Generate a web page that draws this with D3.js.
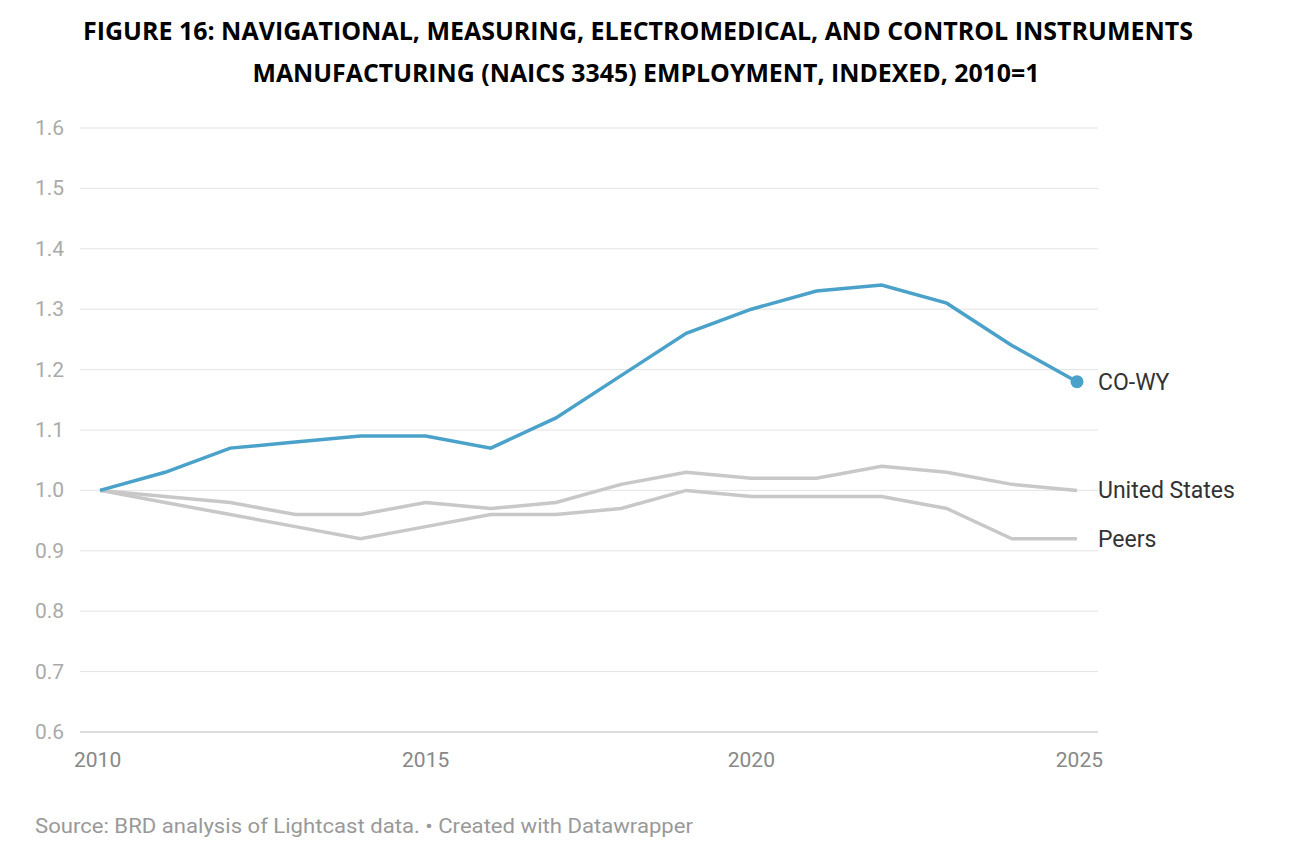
<!DOCTYPE html><html><head><meta charset="utf-8">
<script src="https://cdn.jsdelivr.net/npm/d3@7"></script>
<style>body{margin:0;background:#fff}</style></head><body>
<svg id="c" width="1300" height="858"></svg>
<script>
const years=d3.range(2010,2026);
const coWy=[1.0,1.03,1.07,1.08,1.09,1.09,1.07,1.12,1.19,1.26,1.30,1.33,1.34,1.31,1.24,1.18];
const us=[1.0,0.99,0.98,0.96,0.96,0.98,0.97,0.98,1.01,1.03,1.02,1.02,1.04,1.03,1.01,1.00];
const peers=[1.0,0.98,0.96,0.94,0.92,0.94,0.96,0.96,0.97,1.00,0.99,0.99,0.99,0.97,0.92,0.92];
const yTicks=[0.6,0.7,0.8,0.9,1.0,1.1,1.2,1.3,1.4,1.5,1.6];
const xTicks=[2010,2015,2020,2025];
const svg=d3.select("#c");
const x=d3.scaleLinear().domain([2010,2025]).range([100,1077]);
const y=d3.scaleLinear().domain([0.6,1.6]).range([732,128]);
svg.append("text").attr("x",638).attr("y",40).attr("text-anchor","middle").attr("font-family","Open Sans").attr("font-weight","bold").attr("font-size",24.5).attr("textLength",1110).attr("lengthAdjust","spacingAndGlyphs").text("FIGURE 16: NAVIGATIONAL, MEASURING, ELECTROMEDICAL, AND CONTROL INSTRUMENTS");
svg.append("text").attr("x",646).attr("y",82).attr("text-anchor","middle").attr("font-family","Open Sans").attr("font-weight","bold").attr("font-size",24.5).attr("textLength",787).attr("lengthAdjust","spacingAndGlyphs").text("MANUFACTURING (NAICS 3345) EMPLOYMENT, INDEXED, 2010=1");
const g=svg.append("g").attr("font-family","Roboto");
yTicks.forEach(t=>{
 g.append("line").attr("x1",80).attr("x2",1098).attr("y1",y(t)).attr("y2",y(t)).attr("stroke",t===0.6?"#bbb":"#e3e3e3").attr("stroke-width",1);
 g.append("text").attr("x",35).attr("y",y(t)+7).attr("font-size",21).attr("fill","#aaa").text(t.toFixed(1));
});
xTicks.forEach((t,i)=>g.append("text").attr("x",x(t)).attr("y",767).attr("font-size",21).attr("fill","#888").attr("text-anchor",i===0?"start":i===3?"end":"middle").attr("dx",i===0?-26:i===3?26:0).text(t));
const line=d3.line().x((d,i)=>x(years[i])).y(d=>y(d));
[[peers,"#c8c8c8"],[us,"#c8c8c8"],[coWy,"#4aa1c9"]].forEach(([d,c])=>g.append("path").attr("d",line(d)).attr("fill","none").attr("stroke",c).attr("stroke-width",3.5));
g.append("circle").attr("cx",x(2025)).attr("cy",y(coWy[15])).attr("r",6.5).attr("fill","#4aa1c9");
[["CO-WY",coWy[15]],["United States",us[15]],["Peers",peers[15]]].forEach(([n,v])=>g.append("text").attr("x",1098).attr("y",y(v)+8).attr("font-size",23).attr("fill","#333").text(n));
g.append("text").attr("x",35).attr("y",833).attr("font-size",20).attr("fill","#999").attr("textLength",658).attr("lengthAdjust","spacingAndGlyphs").text("Source: BRD analysis of Lightcast data. • Created with Datawrapper");
</script></body></html>
